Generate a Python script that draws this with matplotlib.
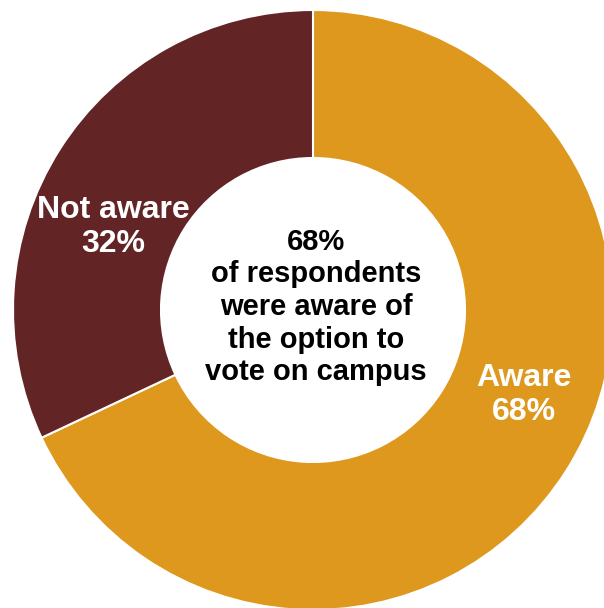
import matplotlib.pyplot as plt

labels = ["Aware", "Not aware"]
shares = [68, 32]
colors = ["#DD981D", "#632426"]
center_text = "68%\nof respondents\nwere aware of\nthe option to\nvote on campus"

plt.rcParams["font.family"] = ["Liberation Sans", "DejaVu Sans"]

fig = plt.figure(figsize=(6.04, 6.08), dpi=100)
ax = fig.add_axes([0, 0, 1, 1])

# work in pixel-like units, y pointing up
ax.pie(
    shares,
    colors=colors,
    startangle=90,
    counterclock=False,
    center=(313, 298),
    radius=300,
    wedgeprops=dict(width=148, edgecolor="white", linewidth=1.5),
    frame=False,
)
ax.set_xlim(0, 604)
ax.set_ylim(0, 608)
ax.set_aspect("equal")
ax.axis("off")

label_pos = {"Aware": (524, 213), "Not aware": (113, 381)}
for name, val in zip(labels, shares):
    x, y = label_pos[name]
    ax.text(x, y, f"{name}\n{val}%", ha="center", va="center",
            fontsize=23, fontweight="bold", color="white", linespacing=1.16)

ax.text(316, 301, center_text, ha="center", va="center",
        fontsize=21, fontweight="bold", color="black", linespacing=1.21)

fig.savefig("out.png", dpi=100)
